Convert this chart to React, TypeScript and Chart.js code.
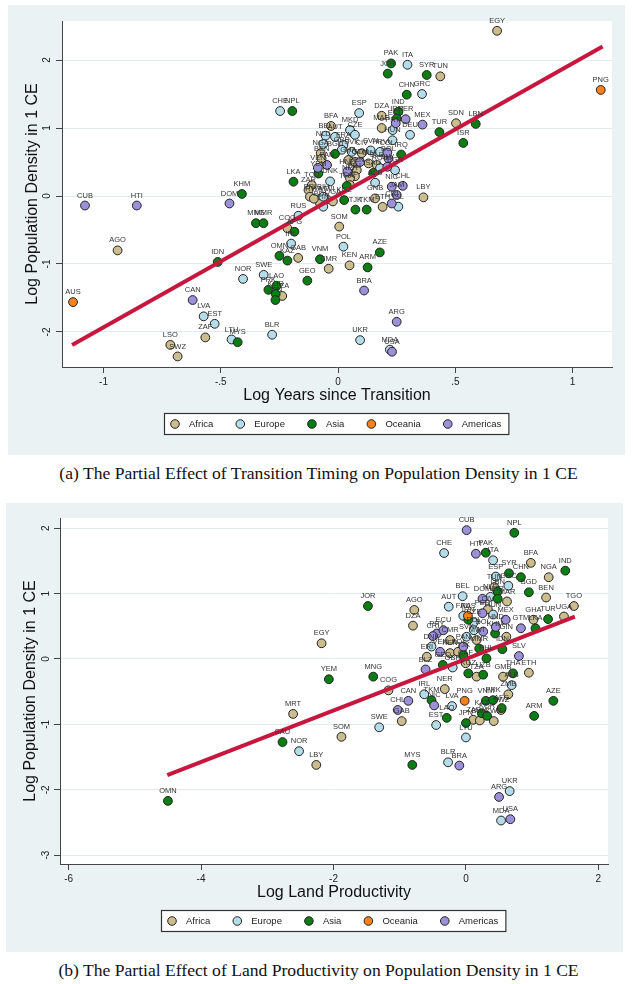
import React, { useEffect, useRef } from 'react';
import { Chart, registerables } from 'chart.js';

Chart.register(...registerables);

type Pt = [string, number, number];

const SANS = "'Liberation Sans', Arial, Helvetica, sans-serif";
const SERIF = "'Liberation Serif', 'Times New Roman', serif";

const continents = ['Africa', 'Europe', 'Asia', 'Oceania', 'Americas'];
const continentColors = ['#CBBD8D', '#B4DCE9', '#0B7D12', '#F5821F', '#9C90D9'];
const fitColor = '#C8173F';
const panelColor = '#EAF2F3';
const gridColor = '#E2ECEE';
const axisColor = '#444444';

// ---------- Panel (a): Log Years since Transition ----------
const aAfrica: Pt[] = [
  ['EGY', 0.678, 2.43], ['TUN', 0.436, 1.76], ['DZA', 0.186, 1.18], ['MAR', 0.186, 1.0], ['SDN', 0.503, 1.07],
  ['LBY', 0.364, -0.02], ['BFA', -0.03, 1.03], ['NGA', -0.074, 0.63], ['CIV', 0.101, 0.63], ['BEN', -0.07, 0.55],
  ['GHA', 0.044, 0.53], ['TGO', 0.072, 0.5], ['SEN', 0.08, 0.38], ['MLI', 0.072, 0.29], ['NER', 0.051, 0.26],
  ['GIN', 0.13, 0.48], ['SLE', 0.165, 0.456], ['TCD', -0.112, 0.16], ['CAF', 0.051, 0.16], ['ZAR', -0.126, 0.088],
  ['ERI', -0.12, -0.01], ['MWI', -0.048, -0.05], ['BDI', -0.077, -0.11], ['RWA', -0.103, -0.04], ['UGA', -0.022, -0.08],
  ['GNB', 0.158, -0.035], ['ETH', 0.19, -0.16], ['COG', -0.216, -0.475], ['AGO', -0.94, -0.8], ['GAB', -0.17, -0.91],
  ['CMR', -0.04, -1.07], ['SOM', 0.005, -0.45], ['KEN', 0.049, -1.02], ['TZA', -0.238, -1.47], ['ZAF', -0.566, -2.08],
  ['LSO', -0.715, -2.19], ['SWZ', -0.684, -2.36],
];
const aEurope: Pt[] = [
  ['ITA', 0.296, 1.93], ['GRC', 0.358, 1.5], ['ESP', 0.09, 1.22], ['DEU', 0.307, 0.9], ['CHE', -0.247, 1.25],
  ['MKD', 0.051, 0.97], ['CZE', 0.072, 0.9], ['BEL', -0.053, 0.887], ['AUT', -0.013, 0.87], ['PRT', 0.233, 0.97],
  ['HUN', 0.232, 0.82], ['FRA', 0.023, 0.75], ['NLD', -0.063, 0.765], ['GBR', 0.016, 0.68], ['SVK', 0.058, 0.65],
  ['SVN', 0.139, 0.67], ['HRV', 0.179, 0.65], ['ROU', 0.179, 0.41], ['BGR', 0.243, 0.38], ['DNK', -0.034, 0.215],
  ['ALB', 0.158, 0.196], ['BIH', -0.063, -0.01], ['FIN', -0.063, -0.157], ['ISL', 0.257, -0.157], ['RUS', -0.169, -0.29],
  ['IRL', -0.2, -0.7], ['POL', 0.023, -0.745], ['NOR', -0.405, -1.22], ['SWE', -0.317, -1.16], ['LVA', -0.573, -1.77],
  ['EST', -0.526, -1.88], ['LTU', -0.454, -2.11], ['BLR', -0.281, -2.04], ['UKR', 0.094, -2.12], ['MDA', 0.221, -2.26],
];
const aAsia: Pt[] = [
  ['PAK', 0.226, 1.95], ['JOR', 0.212, 1.8], ['SYR', 0.378, 1.78], ['CHN', 0.293, 1.49], ['IND', 0.257, 1.24],
  ['IRN', 0.25, 1.14], ['TUR', 0.432, 0.94], ['LBN', 0.587, 1.06], ['ISR', 0.534, 0.78], ['NPL', -0.195, 1.25],
  ['BGD', -0.013, 0.62], ['IRQ', 0.269, 0.61], ['SAU', 0.15, 0.34], ['YEM', -0.084, 0.33], ['LKA', -0.19, 0.21],
  ['THA', 0.037, 0.147], ['KGZ', 0.026, -0.06], ['TJK', 0.074, -0.2], ['TKM', 0.122, -0.2], ['KHM', -0.41, 0.03],
  ['MNG', -0.35, -0.4], ['MMR', -0.318, -0.4], ['AFG', -0.186, -0.525], ['OMN', -0.25, -0.88], ['KAZ', -0.216, -0.95],
  ['VNM', -0.077, -0.93], ['IDN', -0.513, -0.97], ['ARM', 0.126, -1.05], ['AZE', 0.178, -0.83], ['GEO', -0.131, -1.245],
  ['LAO', -0.262, -1.32], ['PRK', -0.297, -1.38], ['KOR', -0.266, -1.44], ['JPN', -0.267, -1.53], ['MYS', -0.428, -2.15],
];
const aOceania: Pt[] = [['AUS', -1.13, -1.56], ['PNG', 1.12, 1.56]];
const aAmericas: Pt[] = [
  ['PER', 0.288, 1.13], ['MEX', 0.36, 1.05], ['ECU', 0.246, 1.07], ['BOL', 0.215, 0.55], ['COL', 0.21, 0.64],
  ['GTM', 0.094, 0.5], ['PAN', -0.047, 0.456], ['VEN', -0.086, 0.415], ['HND', 0.04, 0.36], ['SLV', 0.21, 0.43],
  ['NIC', 0.229, 0.137], ['CHL', 0.276, 0.15], ['CRI', 0.229, -0.11], ['JAM', 0.25, 0.015], ['CUB', -1.079, -0.14],
  ['HTI', -0.858, -0.14], ['DOM', -0.463, -0.11], ['CAN', -0.62, -1.53], ['BRA', 0.111, -1.39], ['ARG', 0.25, -1.85],
  ['USA', 0.23, -2.29],
];
const aFitX = [-1.134, 1.128];
const aFitY = [-2.19, 2.2];
const aXTicks = [-1, -0.5, 0, 0.5, 1];
const aXTickLabels = ['-1', '-.5', '0', '.5', '1'];
const aYTicks = [-2, -1, 0, 1, 2];
const aYTickLabels = ['-2', '-1', '0', '1', '2'];

// ---------- Panel (b): Log Land Productivity ----------
const bAfrica: Pt[] = [
  ['BFA', 0.98, 1.47], ['NGA', 1.25, 1.25], ['BEN', 1.21, 0.94], ['TGO', 1.63, 0.81], ['MAR', 0.62, 0.88],
  ['TUN', 0.43, 1.1], ['AGO', -0.78, 0.75], ['DZA', -0.8, 0.51], ['CIV', 0.33, 0.76], ['GHA', 1.02, 0.6],
  ['UGA', 1.48, 0.65], ['GIN', 0.61, 0.34], ['ETH', 0.95, -0.21], ['GMB', 0.56, -0.27], ['ZMB', 0.64, -0.54],
  ['ERI', -0.59, 0.035], ['KEN', -0.24, 0.09], ['CMR', -0.24, 0.29], ['MWI', 0.16, 0.29], ['CAF', -0.005, -0.065],
  ['TZA', 0.16, -0.27], ['BDI', -0.12, 0.11], ['NER', -0.32, -0.46], ['COG', -1.17, -0.48], ['EGY', -2.18, 0.24],
  ['MRT', -2.61, -0.84], ['SOM', -1.88, -1.19], ['LBY', -2.26, -1.62], ['GAB', -0.97, -0.95], ['ZAF', 0.11, -0.93],
  ['BWA', 0.21, -0.94], ['ZWE', 0.42, -0.95], ['SWZ', 0.53, -0.78],
];
const bEurope: Pt[] = [
  ['CHE', -0.33, 1.62], ['ITA', 0.41, 1.51], ['ESP', 0.45, 1.26], ['GRC', 0.64, 1.12], ['BEL', -0.05, 0.96],
  ['AUT', -0.26, 0.8], ['NLD', 0.37, 0.95], ['FRA', -0.04, 0.66], ['HUN', 0.41, 0.68], ['CZE', 0.12, 0.56],
  ['SVK', 0.01, 0.34], ['POL', 0.12, 0.44], ['DNK', -0.52, 0.19], ['GBR', -0.2, -0.13], ['ALB', 0.69, -0.4],
  ['IRL', -0.63, -0.54], ['LVA', -0.21, -0.72], ['SWE', -1.31, -1.045], ['EST', -0.45, -1.01], ['LTU', 0.0, -1.2],
  ['NOR', -2.52, -1.41], ['BLR', -0.27, -1.58], ['UKR', 0.66, -2.02], ['MDA', 0.53, -2.47],
];
const bAsia: Pt[] = [
  ['NPL', 0.73, 1.93], ['PAK', 0.3, 1.625], ['IND', 1.5, 1.35], ['SYR', 0.65, 1.31], ['CHN', 0.83, 1.25],
  ['BGD', 0.95, 1.02], ['LBN', 0.48, 1.03], ['ISR', 0.48, 0.92], ['JOR', -1.48, 0.81], ['TUR', 1.24, 0.61],
  ['LKA', 1.05, 0.47], ['IRN', 0.035, 0.6], ['KHM', 0.44, 0.39], ['MMR', 0.2, 0.16], ['IDN', 0.55, 0.15],
  ['PHL', 0.31, 0.01], ['TJK', -0.04, 0.06], ['GEO', -0.35, -0.09], ['KGZ', 0.035, -0.22], ['UZB', 0.26, -0.24],
  ['THA', 0.71, -0.22], ['MNG', -1.4, -0.27], ['YEM', -2.07, -0.31], ['TKM', -0.52, -0.63], ['VNM', 0.3, -0.64],
  ['PRK', 0.41, -0.63], ['AZE', 1.32, -0.64], ['ARM', 1.03, -0.87], ['KAZ', 0.24, -0.83], ['KOR', 0.32, -0.87],
  ['JPN', 0.0, -0.98], ['LAO', -0.29, -0.9], ['SAU', -2.77, -1.27], ['MYS', -0.81, -1.62], ['OMN', -4.5, -2.17],
  ['AFG', 0.54, -0.75],
];
const bOceania: Pt[] = [['AUS', 0.03, 0.66], ['PNG', -0.02, -0.64]];
const bAmericas: Pt[] = [
  ['CUB', 0.01, 1.97], ['HTI', 0.15, 1.61], ['DOM', 0.25, 0.92], ['PER', 0.25, 0.7], ['MEX', 0.6, 0.6],
  ['GTM', 0.83, 0.47], ['HND', 0.45, 0.49], ['PRY', -0.44, 0.39], ['ECU', -0.34, 0.44], ['CRI', -0.5, 0.35],
  ['BOL', 0.26, 0.42], ['VEN', -0.39, 0.11], ['PAN', -0.04, 0.19], ['BLZ', -0.61, -0.16], ['SLV', 0.8, 0.045],
  ['CAN', -0.87, -0.64], ['NIC', -0.48, -0.71], ['CHL', -1.03, -0.78], ['BRA', -0.1, -1.63], ['ARG', 0.5, -2.11],
  ['USA', 0.67, -2.45],
];
const bFitX = [-4.51, 1.645];
const bFitY = [-1.775, 0.647];
const bXTicks = [-6, -4, -2, 0, 2];
const bXTickLabels = ['-6', '-4', '-2', '0', '2'];
const bYTicks = [-3, -2, -1, 0, 1, 2];
const bYTickLabels = ['-3', '-2', '-1', '0', '1', '2'];

type Spec = {
  groups: Pt[][];
  fitX: number[];
  fitY: number[];
  xMin: number; xMax: number; yMin: number; yMax: number;
  xTicks: number[]; xTickLabels: string[];
  yTicks: number[]; yTickLabels: string[];
  xTitle: string; yTitle: string;
  pad: { left: number; top: number; right: number; bottom: number };
  yTickPad: number; yTitlePad: number;
};

const bgPlugin = {
  id: 'stataBg',
  beforeDraw(chart: any) {
    const { ctx, chartArea: a, width, height } = chart;
    ctx.save();
    ctx.fillStyle = panelColor;
    ctx.fillRect(0, 0, width, height);
    ctx.fillStyle = '#ffffff';
    ctx.fillRect(a.left, a.top, a.right - a.left, a.bottom - a.top);
    ctx.restore();
  },
};

const labelPlugin = {
  id: 'pointLabels',
  afterDatasetsDraw(chart: any) {
    const { ctx } = chart;
    ctx.save();
    ctx.font = `7.5px ${SANS}`;
    ctx.fillStyle = '#333333';
    ctx.textAlign = 'center';
    ctx.textBaseline = 'middle';
    chart.data.datasets.forEach((ds: any, i: number) => {
      if (!ds.ptLabels) return;
      const meta = chart.getDatasetMeta(i);
      meta.data.forEach((el: any, j: number) => {
        ctx.fillText(ds.ptLabels[j], el.x, el.y - 10);
      });
    });
    ctx.restore();
  },
};

const legendPlugin = {
  id: 'boxLegend',
  afterDraw(chart: any) {
    const { ctx, chartArea: a } = chart;
    ctx.save();
    ctx.font = `9.5px ${SANS}`;
    const widths = continents.map((t) => ctx.measureText(t).width);
    const first = 11, toText = 14, gap = 27, tail = 8;
    const boxW = first + widths.reduce((s, w) => s + toText + w, 0) + gap * (continents.length - 1) + tail;
    const left = Math.round((a.left + a.right) / 2 - boxW / 2);
    const top = Math.round(a.bottom + 46);
    const h = 22;
    ctx.fillStyle = '#ffffff';
    ctx.fillRect(left, top, boxW, h);
    ctx.strokeStyle = '#333333';
    ctx.lineWidth = 1.2;
    ctx.strokeRect(left + 0.5, top + 0.5, boxW - 1, h - 1);
    let cx = left + first;
    const cy = top + h / 2;
    continents.forEach((t, i) => {
      ctx.beginPath();
      ctx.arc(cx, cy, 4.3, 0, Math.PI * 2);
      ctx.fillStyle = continentColors[i];
      ctx.fill();
      ctx.lineWidth = 1;
      ctx.strokeStyle = '#222222';
      ctx.stroke();
      ctx.fillStyle = '#222222';
      ctx.textAlign = 'left';
      ctx.textBaseline = 'middle';
      ctx.fillText(t, cx + toText, cy + 0.5);
      cx = cx + toText + widths[i] + gap;
    });
    ctx.restore();
  },
};

function Panel({ spec, left, top, width, height }: { spec: Spec; left: number; top: number; width: number; height: number }) {
  const ref = useRef<HTMLCanvasElement | null>(null);
  useEffect(() => {
    if (!ref.current) return;
    const fitData = spec.fitX.map((x, i) => ({ x, y: spec.fitY[i] }));
    const datasets: any[] = [
      {
        type: 'line',
        label: 'fit',
        data: fitData,
        borderColor: fitColor,
        borderWidth: 4,
        pointRadius: 0,
        fill: false,
        showLine: true,
        order: 0,
      },
      ...spec.groups.map((g, i) => ({
        type: 'scatter',
        label: continents[i],
        data: g.map((p) => ({ x: p[1], y: p[2] })),
        ptLabels: g.map((p) => p[0]),
        pointRadius: 4.4,
        pointBorderWidth: 1,
        pointBorderColor: '#222222',
        pointBackgroundColor: continentColors[i],
        backgroundColor: continentColors[i],
        borderColor: '#222222',
        order: spec.groups.length - i,
      })),
    ];
    const chart = new Chart(ref.current, {
      type: 'scatter',
      data: { datasets },
      options: {
        animation: false,
        responsive: false,
        maintainAspectRatio: false,
        events: [],
        layout: { padding: spec.pad },
        plugins: { legend: { display: false }, tooltip: { enabled: false } },
        scales: {
          x: {
            type: 'linear',
            bounds: 'data',
            min: spec.xMin,
            max: spec.xMax,
            afterBuildTicks: (s: any) => { s.ticks = spec.xTicks.map((v) => ({ value: v })); },
            afterFit: (s: any) => { s.height = 38; },
            grid: { drawOnChartArea: false, drawTicks: true, tickLength: 6, color: axisColor, tickColor: axisColor },
            border: { display: true, color: axisColor, width: 1 },
            ticks: {
              autoSkip: false,
              maxRotation: 0,
              minRotation: 0,
              padding: 3,
              color: '#222222',
              font: { family: SANS, size: 10 },
              callback: (v: any) => { const k = spec.xTicks.indexOf(Number(v)); return k >= 0 ? spec.xTickLabels[k] : ''; },
            },
            title: { display: true, text: spec.xTitle, color: '#111111', font: { family: SANS, size: 16 }, padding: { top: 0, bottom: 0 } },
          },
          y: {
            type: 'linear',
            bounds: 'data',
            min: spec.yMin,
            max: spec.yMax,
            afterBuildTicks: (s: any) => { s.ticks = spec.yTicks.map((v) => ({ value: v })); },
            afterFit: (s: any) => { s.width = 54; },
            grid: { drawOnChartArea: true, drawTicks: true, tickLength: 6, color: gridColor, tickColor: axisColor, lineWidth: 1 },
            border: { display: true, color: axisColor, width: 1 },
            ticks: {
              autoSkip: false,
              minRotation: 90,
              maxRotation: 90,
              crossAlign: 'center',
              padding: spec.yTickPad,
              color: '#222222',
              font: { family: SANS, size: 10 },
              callback: (v: any) => { const k = spec.yTicks.indexOf(Number(v)); return k >= 0 ? spec.yTickLabels[k] : ''; },
            },
            title: { display: true, text: spec.yTitle, color: '#111111', font: { family: SANS, size: 16 }, padding: { top: spec.yTitlePad, bottom: 0 } },
          },
        },
      } as any,
      plugins: [bgPlugin, labelPlugin, legendPlugin],
    });
    return () => chart.destroy();
  }, [spec]);
  return (
    <canvas
      ref={ref}
      width={width}
      height={height}
      style={{ position: 'absolute', left, top, width, height, display: 'block' }}
    />
  );
}

const specA: Spec = {
  groups: [aAfrica, aEurope, aAsia, aOceania, aAmericas],
  fitX: aFitX, fitY: aFitY,
  xMin: -1.177, xMax: 1.168, yMin: -2.515, yMax: 2.574,
  xTicks: aXTicks, xTickLabels: aXTickLabels, yTicks: aYTicks, yTickLabels: aYTickLabels,
  xTitle: 'Log Years since Transition', yTitle: 'Log Population Density in 1 CE',
  pad: { left: 0, top: 16, right: 13, bottom: 50 },
  yTickPad: 4.5, yTitlePad: 15,
};

const specB: Spec = {
  groups: [bAfrica, bEurope, bAsia, bOceania, bAmericas],
  fitX: bFitX, fitY: bFitY,
  xMin: -6.13, xMax: 2.145, yMin: -3.135, yMax: 2.156,
  xTicks: bXTicks, xTickLabels: bXTickLabels, yTicks: bYTicks, yTickLabels: bYTickLabels,
  xTitle: 'Log Land Productivity', yTitle: 'Log Population Density in 1 CE',
  pad: { left: 0, top: 15, right: 15, bottom: 50 },
  yTickPad: 3.5, yTitlePad: 14.5,
};

const captionStyle: React.CSSProperties = {
  position: 'absolute',
  left: 0,
  width: 637,
  textAlign: 'center',
  fontFamily: SERIF,
  fontSize: 17.6,
  lineHeight: '20px',
  color: '#111111',
  whiteSpace: 'nowrap',
};

export default function App() {
  return (
    <div style={{ position: 'absolute', left: 0, top: 0, width: 633, height: 984, background: '#ffffff', overflow: 'hidden' }}>
      <Panel spec={specA} left={8} top={5} width={617} height={450} />
      <div style={{ ...captionStyle, top: 463 }}>(a) The Partial Effect of Transition Timing on Population Density in 1 CE</div>
      <Panel spec={specB} left={6} top={503} width={617} height={449} />
      <div style={{ ...captionStyle, top: 960 }}>(b) The Partial Effect of Land Productivity on Population Density in 1 CE</div>
    </div>
  );
}
